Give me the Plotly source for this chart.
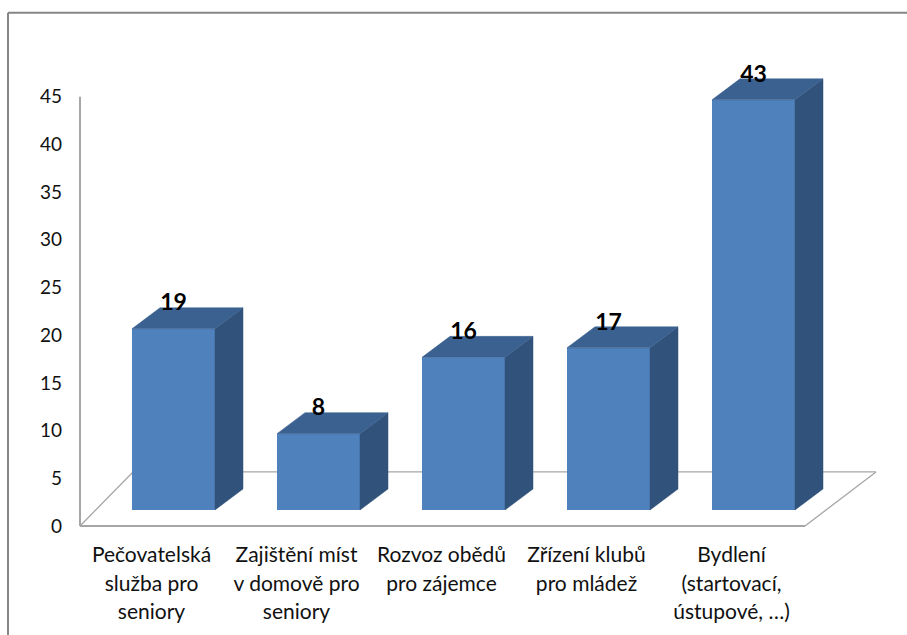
import numpy as np
import plotly.graph_objects as go

categories = [
    "Pečovatelská<br>služba pro<br>seniory",
    "Zajištění míst<br>v domově pro<br>seniory",
    "Rozvoz obědů<br>pro zájemce",
    "Zřízení klubů<br>pro mládež",
    "Bydlení<br>(startovací,<br>ústupové, …)",
]
values = [19, 8, 16, 17, 43]
y_ticks = [0, 5, 10, 15, 20, 25, 30, 35, 40, 45]

FONT = "Lato, Carlito, Calibri, sans-serif"
CAT_SIZE = 21
FRONT, SIDE, TOP = "#4F81BD", "#31527A", "#3A6190"
AXIS = "#A6A6A6"

W, H = 907, 635
AX0, Y0 = 80, 526                 # pixel position of the chart's axis corner
L, R = 70, 880                    # plot area, a little wider than the axes so lines are not clipped
y_per_px = 45 / (Y0 - 97)         # 0..45 spans pixels 526..97
YMAX = 52                         # head room above the 45 tick for the 3-D top and label
YMIN = -10 * y_per_px
B = Y0 + 10
T = Y0 - YMAX / y_per_px
x_per_px = 1 / 145
x_lo = -(173.5 - L) * x_per_px
x_hi = x_lo + (R - L) * x_per_px
x_ax = x_lo + (AX0 - L) * x_per_px
floor_base = 16 * y_per_px        # bars stand in from the floor's front edge
dx, dy = 28 * x_per_px, 21 * y_per_px   # 3-D depth
bar_w = 83 * x_per_px

x = np.arange(len(values))
v = np.array(values, dtype=float)
tops = floor_base + v

fig = go.Figure()
fig.add_trace(go.Bar(x=x, y=v, base=floor_base, width=bar_w,
                     marker=dict(color=FRONT, line=dict(width=0)),
                     showlegend=False, hoverinfo="skip"))
for xi, top in zip(x, tops):
    xr = xi + bar_w / 2
    xl = xi - bar_w / 2
    fig.add_trace(go.Scatter(
        x=[xr, xr + dx, xr + dx, xr, xr], y=[floor_base, floor_base + dy, top + dy, top, floor_base],
        mode="lines", fill="toself", fillcolor=SIDE, line=dict(width=0.5, color=SIDE),
        showlegend=False, hoverinfo="skip"))
    fig.add_trace(go.Scatter(
        x=[xl, xr, xr + dx, xl + dx, xl], y=[top, top, top + dy, top + dy, top],
        mode="lines", fill="toself", fillcolor=TOP, line=dict(width=0.5, color=TOP),
        showlegend=False, hoverinfo="skip"))
fig.add_trace(go.Scatter(
    x=x, y=tops + 24 * y_per_px, mode="text", text=[str(n) for n in values],
    textposition="middle center", textfont=dict(family=FONT, size=23, color="#000000", weight="bold"),
    showlegend=False, hoverinfo="skip", cliponaxis=False))

# floor parallelogram and the two axis lines
fx_front_r = x_lo + (805 - L) * x_per_px
fx_back_l, fx_back_r = x_lo + (133 - L) * x_per_px, x_lo + (876 - L) * x_per_px
fy_back = (Y0 - 472) * y_per_px
floor = [
    (x_ax, 0, fx_back_l, fy_back, 1.3),
    (fx_back_l, fy_back, fx_back_r, fy_back, 1.3),
    (fx_back_r, fy_back, fx_front_r, 0, 1.3),
    (x_ax, 0, fx_front_r, 0, 2),
    (x_ax, 0, x_ax, 45, 2),
]
shapes = [dict(type="line", layer="below", xref="x", yref="y", x0=a, y0=b, x1=c, y1=d,
               line=dict(color=AXIS, width=w)) for a, b, c, d, w in floor]
# outer frame: top and left edges of the chart area
px = lambda p: (p - L) / (R - L)
py = lambda p: (B - p) / (B - T)
shapes += [
    dict(type="line", xref="paper", yref="paper", x0=px(8), y0=py(13), x1=px(W), y1=py(13),
         line=dict(color="#868686", width=2)),
    dict(type="line", xref="paper", yref="paper", x0=px(8), y0=py(13), x1=px(8), y1=py(H),
         line=dict(color="#868686", width=2)),
]

ticktext = ["<br>".join(f"<span style='font-size:{CAT_SIZE}px'>{s}</span>" for s in c.split("<br>"))
            for c in categories]

fig.update_layout(
    width=W, height=H, margin=dict(l=L, r=W - R, t=T, b=H - B, pad=0),
    paper_bgcolor="white", plot_bgcolor="white", showlegend=False, shapes=shapes,
    font=dict(family=FONT, color="#111111"),
    xaxis=dict(range=[x_lo, x_hi], tickmode="array", tickvals=x - 22 * x_per_px, ticktext=ticktext, tickangle=0,
               showgrid=False, zeroline=False, showline=False, ticks="",
               tickfont=dict(family=FONT, size=22, color="#111111"), ticklabelstandoff=3),
    yaxis=dict(range=[YMIN, YMAX], tickmode="array", tickvals=y_ticks, ticktext=[str(t) for t in y_ticks],
               showgrid=False, zeroline=False, showline=False, ticks="",
               tickfont=dict(family=FONT, size=19, color="#111111"), ticklabelstandoff=7),
)
fig.write_html("out.html", post_script="document.body.style.margin='0';document.body.style.overflow='hidden';",
               config={"displayModeBar": False})
